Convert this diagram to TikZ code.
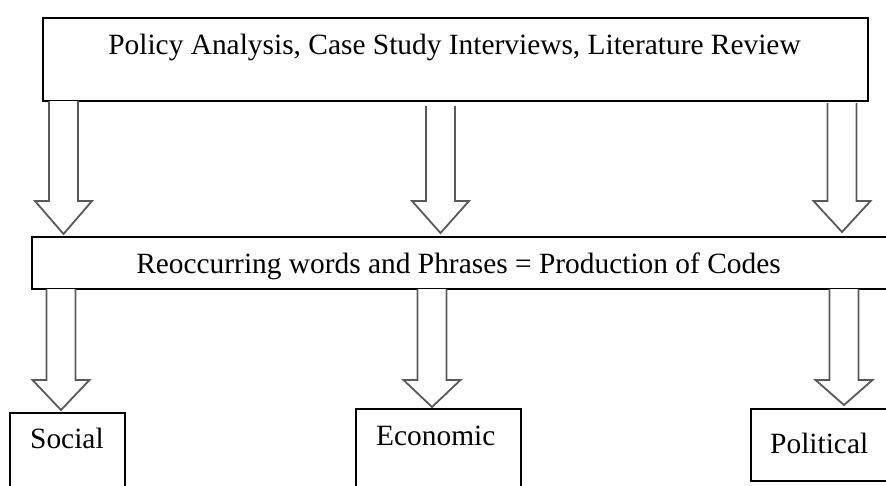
\documentclass[tikz,border=0pt]{standalone}
\usepackage{fontspec}
\setmainfont{Liberation Serif}
\begin{document}
\begin{tikzpicture}[x=1pt,y=-1pt,
  box/.style={draw=black,line width=1.4pt,fill=white},
  label/.style={font=\fontsize{29.4}{34}\selectfont,inner sep=0pt,anchor=base},
  blk/.style={draw=black!65,line width=1.8pt,fill=white,line join=miter}]
\useasboundingbox (0,0) rectangle (886,485);
\clip (0,0) rectangle (886,485);
% block arrow: centre x, top of shaft, start of head, tip
\newcommand\blockarrow[4]{%
  \draw[blk] (#1-14.5,#2) -- (#1-14.5,#3) -- (#1-28.5,#3) -- (#1,#4)
    -- (#1+28.5,#3) -- (#1+14.5,#3) -- (#1+14.5,#2);}
% boxes
\draw[box] (43,18) rectangle (868,101);
\node[label] (src) at (454.5,54) {Policy Analysis, Case Study Interviews, Literature Review};
\draw[box] (32,237) rectangle (900,289);
\node[label] (codes) at (458.5,273) {Reoccurring words and Phrases = Production of Codes};
\draw[box] (10,413) rectangle (125,500);
\node[label,anchor=base west] (soc) at (30,448) {Social};
\draw[box] (356,409) rectangle (521,500);
\node[label,anchor=base west] (eco) at (376,445) {Economic};
\draw[box] (751,409) rectangle (900,481);
\node[label,anchor=base west] (pol) at (770,453) {Political};
% arrows from sources to codes
\blockarrow{63.5}{101}{201}{234}
\blockarrow{440.5}{106}{201}{233}
\blockarrow{842}{103}{201}{232}
% arrows from codes to themes
\blockarrow{61}{289}{380}{410}
\blockarrow{432}{289}{380}{407}
\blockarrow{844}{289}{380}{405}
\end{tikzpicture}
\end{document}
